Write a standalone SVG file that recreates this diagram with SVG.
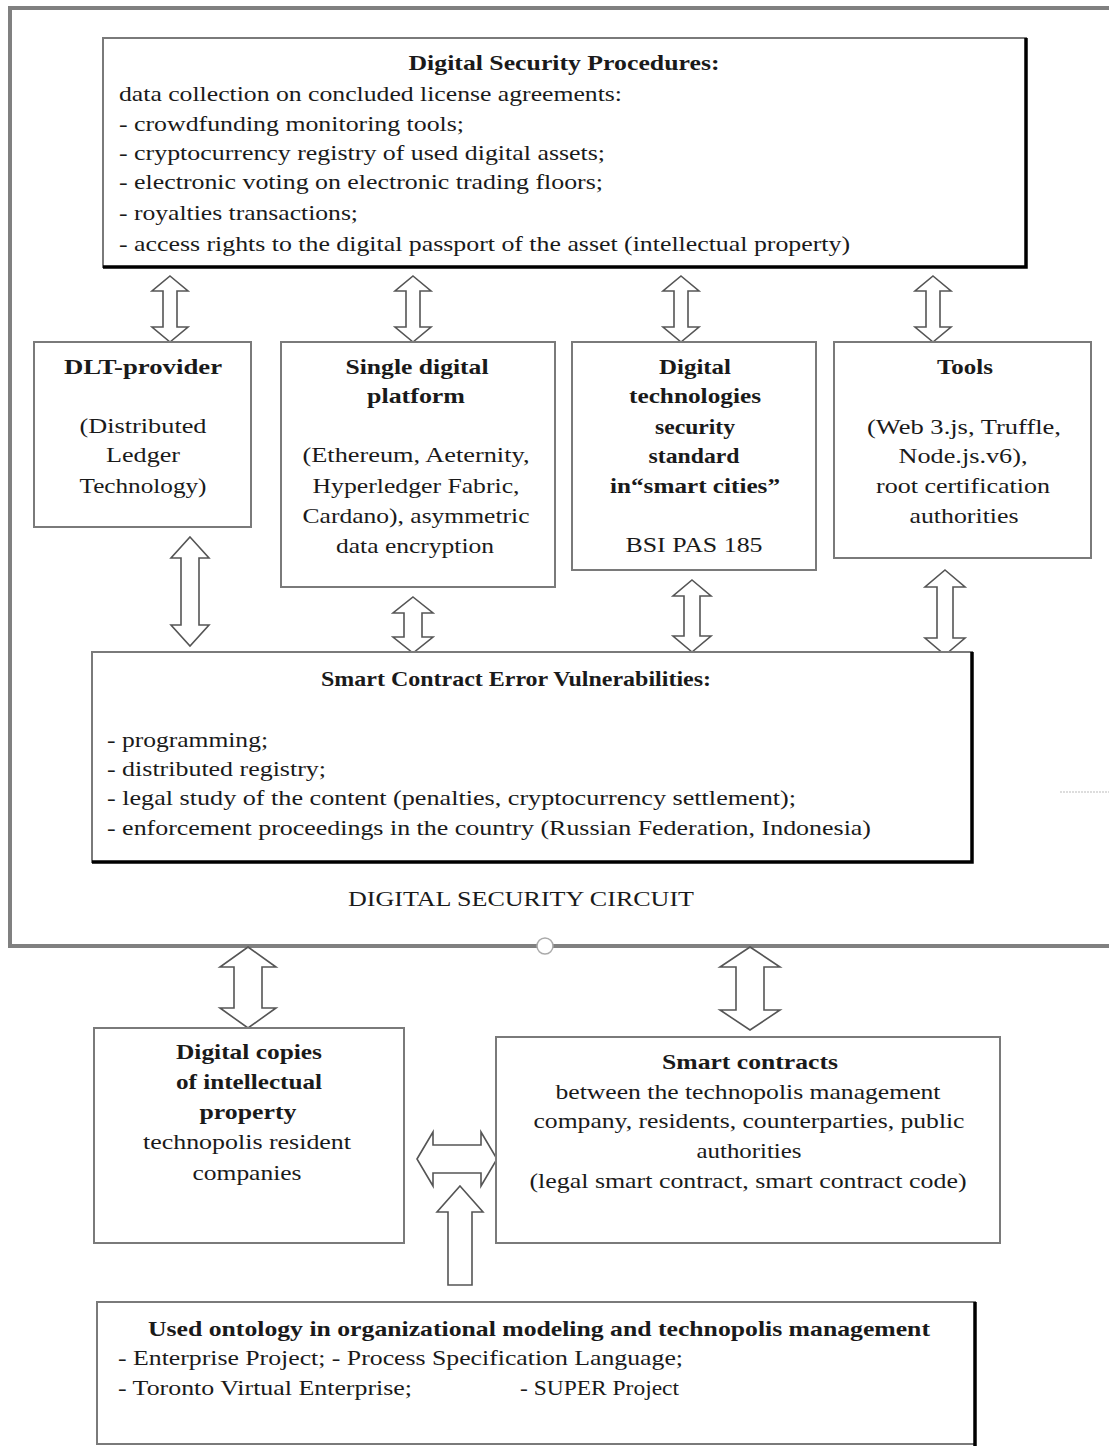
<svg xmlns="http://www.w3.org/2000/svg" width="1109" height="1446" viewBox="0 0 1109 1446">
<style>
text{font-family:"Liberation Serif","Times New Roman",serif;font-size:21px;fill:#1a1a1a}
.b{font-weight:bold}
.c{text-anchor:middle}
.box{fill:#fff;stroke:#7a7a7a;stroke-width:2}
.sh{fill:none;stroke:#000;stroke-width:3.5}
.arr{fill:#fff;stroke:#555;stroke-width:1.6;stroke-linejoin:miter}
.frame{fill:none;stroke:#808080;stroke-width:4}
</style>
<rect x="0" y="0" width="1109" height="1446" fill="#fff"/>
<g id="frame">
<rect class="frame" x="10" y="8" width="1115" height="938"/>
<circle cx="545" cy="946" r="8" fill="#fff" stroke="#aaa" stroke-width="1.5"/>
<line x1="1060" y1="792" x2="1109" y2="792" stroke="#bbb" stroke-width="1" stroke-dasharray="2 1"/>
<text class="c" x="521" y="906" textLength="346" lengthAdjust="spacingAndGlyphs">DIGITAL SECURITY CIRCUIT</text>
</g>
<g id="connectors">
<path class="arr" d="M170,276 L188,291 L177,291 L177,327 L188,327 L170,342 L152,327 L163,327 L163,291 L152,291 Z"/>
<path class="arr" d="M413,276 L431,291 L420,291 L420,327 L431,327 L413,342 L395,327 L406,327 L406,291 L395,291 Z"/>
<path class="arr" d="M681,276 L699,291 L688,291 L688,327 L699,327 L681,342 L663,327 L674,327 L674,291 L663,291 Z"/>
<path class="arr" d="M933,276 L951,291 L940,291 L940,327 L951,327 L933,342 L915,327 L926,327 L926,291 L915,291 Z"/>
<path class="arr" d="M190,537 L209,558 L199,558 L199,625 L209,625 L190,646 L171,625 L181,625 L181,558 L171,558 Z"/>
<path class="arr" d="M413,597 L433,613 L422,613 L422,637 L433,637 L413,653 L393,637 L404,637 L404,613 L393,613 Z"/>
<path class="arr" d="M692,580 L711,596 L700,596 L700,636 L711,636 L692,652 L673,636 L684,636 L684,596 L673,596 Z"/>
<path class="arr" d="M945,570 L965,587 L953,587 L953,638 L965,638 L945,655 L925,638 L937,638 L937,587 L925,587 Z"/>
<path class="arr" d="M248,947 L276,967 L262,967 L262,1008 L276,1008 L248,1028 L220,1008 L234,1008 L234,967 L220,967 Z"/>
<path class="arr" d="M750,947 L780,967 L764,967 L764,1010 L780,1010 L750,1030 L720,1010 L736,1010 L736,967 L720,967 Z"/>
<path class="arr" d="M417,1159 L433,1132 L433,1145 L481,1145 L481,1132 L497,1159 L481,1186 L481,1173 L433,1173 L433,1186 Z"/>
<path class="arr" d="M460,1186 L483,1212 L472,1212 L472,1285 L448,1285 L448,1212 L437,1212 Z"/>
</g>
<g id="procedures">
<rect class="box" x="103" y="38" width="923" height="229"/>
<polyline class="sh" points="1026,38 1026,267 103,267"/>
<text class="b c" x="564" y="70" textLength="311" lengthAdjust="spacingAndGlyphs">Digital Security Procedures:</text>
<text x="119" y="101" textLength="503" lengthAdjust="spacingAndGlyphs">data collection on concluded license agreements:</text>
<text x="119" y="131" textLength="345" lengthAdjust="spacingAndGlyphs">- crowdfunding monitoring tools;</text>
<text x="119" y="160" textLength="486" lengthAdjust="spacingAndGlyphs">- cryptocurrency registry of used digital assets;</text>
<text x="119" y="189" textLength="484" lengthAdjust="spacingAndGlyphs">- electronic voting on electronic trading floors;</text>
<text x="119" y="220" textLength="239" lengthAdjust="spacingAndGlyphs">- royalties transactions;</text>
<text x="119" y="251" textLength="731" lengthAdjust="spacingAndGlyphs">- access rights to the digital passport of the asset (intellectual property)</text>
</g>
<g id="dlt">
<rect class="box" x="34" y="342" width="217" height="185"/>
<text class="b c" x="143" y="374" textLength="158" lengthAdjust="spacingAndGlyphs">DLT-provider</text>
<text class="c" x="143" y="433" textLength="127" lengthAdjust="spacingAndGlyphs">(Distributed</text>
<text class="c" x="143" y="462" textLength="74" lengthAdjust="spacingAndGlyphs">Ledger</text>
<text class="c" x="143" y="493" textLength="127" lengthAdjust="spacingAndGlyphs">Technology)</text>
</g>
<g id="platform">
<rect class="box" x="281" y="342" width="274" height="245"/>
<text class="b c" x="417" y="374" textLength="143" lengthAdjust="spacingAndGlyphs">Single digital</text>
<text class="b c" x="416" y="403" textLength="98" lengthAdjust="spacingAndGlyphs">platform</text>
<text class="c" x="416" y="462" textLength="227" lengthAdjust="spacingAndGlyphs">(Ethereum, Aeternity,</text>
<text class="c" x="416" y="493" textLength="207" lengthAdjust="spacingAndGlyphs">Hyperledger Fabric,</text>
<text class="c" x="416" y="523" textLength="227" lengthAdjust="spacingAndGlyphs">Cardano), asymmetric</text>
<text class="c" x="415" y="553" textLength="158" lengthAdjust="spacingAndGlyphs">data encryption</text>
</g>
<g id="standard">
<rect class="box" x="572" y="342" width="244" height="228"/>
<text class="b c" x="695" y="374" textLength="72" lengthAdjust="spacingAndGlyphs">Digital</text>
<text class="b c" x="695" y="403" textLength="132" lengthAdjust="spacingAndGlyphs">technologies</text>
<text class="b c" x="695" y="434" textLength="80" lengthAdjust="spacingAndGlyphs">security</text>
<text class="b c" x="694" y="463" textLength="91" lengthAdjust="spacingAndGlyphs">standard</text>
<text class="b c" x="695" y="493" textLength="170" lengthAdjust="spacingAndGlyphs">in“smart cities”</text>
<text class="c" x="694" y="552" textLength="137" lengthAdjust="spacingAndGlyphs">BSI PAS 185</text>
</g>
<g id="tools">
<rect class="box" x="834" y="342" width="257" height="216"/>
<text class="b c" x="965" y="374" textLength="56" lengthAdjust="spacingAndGlyphs">Tools</text>
<text class="c" x="964" y="434" textLength="194" lengthAdjust="spacingAndGlyphs">(Web 3.js, Truffle,</text>
<text class="c" x="963" y="463" textLength="129" lengthAdjust="spacingAndGlyphs">Node.js.v6),</text>
<text class="c" x="963" y="493" textLength="174" lengthAdjust="spacingAndGlyphs">root certification</text>
<text class="c" x="964" y="523" textLength="109" lengthAdjust="spacingAndGlyphs">authorities</text>
</g>
<g id="vulnerabilities">
<rect class="box" x="92" y="652" width="880" height="210"/>
<polyline class="sh" points="972,652 972,862 92,862"/>
<text class="b c" x="516" y="686" textLength="390" lengthAdjust="spacingAndGlyphs">Smart Contract Error Vulnerabilities:</text>
<text x="107" y="747" textLength="161" lengthAdjust="spacingAndGlyphs">- programming;</text>
<text x="107" y="776" textLength="219" lengthAdjust="spacingAndGlyphs">- distributed registry;</text>
<text x="107" y="805" textLength="689" lengthAdjust="spacingAndGlyphs">- legal study of the content (penalties, cryptocurrency settlement);</text>
<text x="107" y="835" textLength="764" lengthAdjust="spacingAndGlyphs">- enforcement proceedings in the country (Russian Federation, Indonesia)</text>
</g>
<g id="copies">
<rect class="box" x="94" y="1028" width="310" height="215"/>
<text class="b c" x="249" y="1059" textLength="146" lengthAdjust="spacingAndGlyphs">Digital copies</text>
<text class="b c" x="249" y="1089" textLength="146" lengthAdjust="spacingAndGlyphs">of intellectual</text>
<text class="b c" x="248" y="1119" textLength="97" lengthAdjust="spacingAndGlyphs">property</text>
<text class="c" x="247" y="1149" textLength="208" lengthAdjust="spacingAndGlyphs">technopolis resident</text>
<text class="c" x="247" y="1180" textLength="109" lengthAdjust="spacingAndGlyphs">companies</text>
</g>
<g id="contracts">
<rect class="box" x="496" y="1037" width="504" height="206"/>
<text class="b c" x="750" y="1069" textLength="176" lengthAdjust="spacingAndGlyphs">Smart contracts</text>
<text class="c" x="748" y="1099" textLength="385" lengthAdjust="spacingAndGlyphs">between the technopolis management</text>
<text class="c" x="749" y="1128" textLength="431" lengthAdjust="spacingAndGlyphs">company, residents, counterparties, public</text>
<text class="c" x="749" y="1158" textLength="105" lengthAdjust="spacingAndGlyphs">authorities</text>
<text class="c" x="748" y="1188" textLength="437" lengthAdjust="spacingAndGlyphs">(legal smart contract, smart contract code)</text>
</g>
<g id="ontology">
<rect class="box" x="97" y="1302" width="878" height="142"/>
<polyline class="sh" points="975,1302 975,1446"/>
<text class="b c" x="539" y="1336" textLength="782" lengthAdjust="spacingAndGlyphs">Used ontology in organizational modeling and technopolis management</text>
<text x="118" y="1365" textLength="565" lengthAdjust="spacingAndGlyphs">- Enterprise Project; - Process Specification Language;</text>
<text x="118" y="1395" textLength="294" lengthAdjust="spacingAndGlyphs">- Toronto Virtual Enterprise;</text>
<text x="520" y="1395" textLength="159" lengthAdjust="spacingAndGlyphs">- SUPER Project</text>
</g>
</svg>
